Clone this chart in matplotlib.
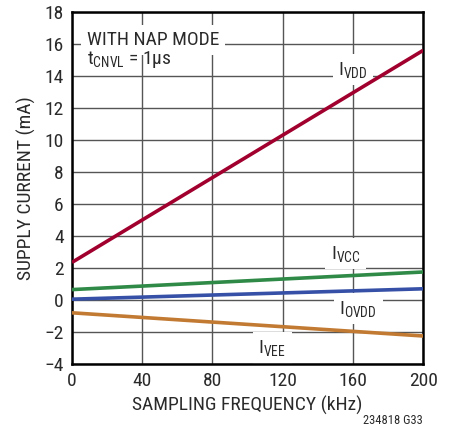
"""Supply current vs sampling frequency, nap mode."""
import matplotlib
matplotlib.use("Agg")
import matplotlib.pyplot as plt
from matplotlib import font_manager

available = {f.name for f in font_manager.fontManager.ttflist}
candidates = ["Roboto Condensed", "Liberation Sans Narrow", "DejaVu Sans Condensed",
              "Liberation Sans", "Roboto"]
FONT = next(c for c in candidates if c in available)

matplotlib.rcParams["font.family"] = [FONT, "DejaVu Sans"]
matplotlib.rcParams["mathtext.fontset"] = "custom"
matplotlib.rcParams["mathtext.rm"] = FONT
matplotlib.rcParams["mathtext.it"] = FONT
matplotlib.rcParams["mathtext.default"] = "rm"

freq_khz = [0, 200]
i_vdd = [2.35, 15.6]
i_vcc = [0.65, 1.75]
i_ovdd = [0.05, 0.7]
i_vee = [-0.8, -2.25]

x_ticks = [0, 40, 80, 120, 160, 200]
y_ticks = list(range(-4, 19, 2))

SERIES = [
    ("I$_{VDD}$", i_vdd, "#a1002e"),
    ("I$_{VCC}$", i_vcc, "#2f8a47"),
    ("I$_{OVDD}$", i_ovdd, "#3550a6"),
    ("I$_{VEE}$", i_vee, "#c27a32"),
]
LABEL_POS = {
    "I$_{VDD}$": (160, 14.4),
    "I$_{VCC}$": (156, 2.9),
    "I$_{OVDD}$": (163, -0.55),
    "I$_{VEE}$": (114, -3.0),
}

TEXT = "#2a2a2a"
BOX = dict(facecolor="white", edgecolor="none", pad=4)

fig = plt.figure(figsize=(4.51, 4.34), dpi=100)
ax = fig.add_axes([0.1596, 0.1613, 0.7786, 0.8111])

for label, values, color in SERIES:
    ax.plot(freq_khz, values, color=color, linewidth=2.6, solid_capstyle="butt", zorder=3)
    lx, ly = LABEL_POS[label]
    ax.text(lx, ly, label, fontsize=14, ha="center", va="center", color=TEXT,
            bbox=BOX, zorder=2)

ax.text(8.5, 16.25, "WITH NAP MODE", fontsize=14, ha="left", va="center", color=TEXT,
        bbox=BOX, zorder=2)
ax.text(8.5, 15.0, "t$_{CNVL}$ = 1μs", fontsize=14, ha="left", va="center", color=TEXT,
        zorder=2)

ax.set_xlim(0, 200)
ax.set_ylim(-4, 18)
ax.set_xticks(x_ticks)
ax.set_yticks(y_ticks)
ax.set_yticklabels([str(v).replace("-", "\u2212") for v in y_ticks])
ax.tick_params(length=0, labelsize=14, pad=6, colors=TEXT)
ax.grid(True, color="#555555", linewidth=1.0, zorder=1)
ax.set_axisbelow(True)
for s in ax.spines.values():
    s.set_linewidth(1.8)
    s.set_color("black")

ax.set_xlabel("SAMPLING FREQUENCY (kHz)", fontsize=14, color=TEXT, labelpad=4)
ax.set_ylabel("SUPPLY CURRENT (mA)", fontsize=14, color=TEXT, labelpad=6)

fig.text(0.938, 0.03, "234818 G33", fontsize=9, ha="right", va="center", color=TEXT)

fig.savefig("out.png", dpi=100)
